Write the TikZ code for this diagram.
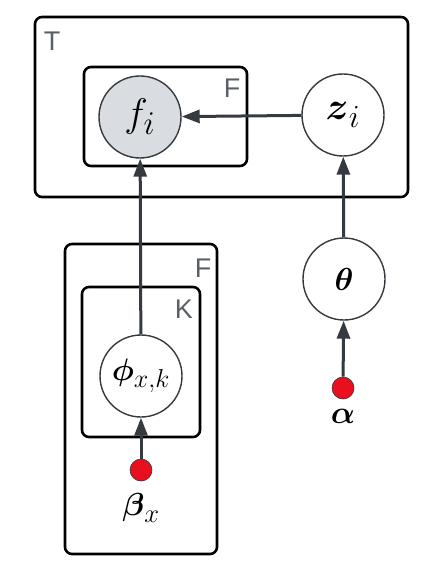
\documentclass[tikz,border=0pt]{standalone}
\usepackage{amsmath,amssymb,graphicx}
\usepackage{fontspec}
\newfontfamily\platefont{Liberation Sans}
\usetikzlibrary{arrows.meta}
\definecolor{edgec}{HTML}{343A40}
\definecolor{obsfill}{HTML}{D9DCE0}
\definecolor{dotred}{HTML}{E8101E}
\definecolor{platetxt}{HTML}{5A6067}
\newcommand{\bigmath}[2]{\scalebox{#1}{\Huge$#2$}}
\tikzset{
  plate/.style={draw=black, line width=2.6pt, rounded corners=7pt},
  platelabel/.style={text=platetxt, font=\platefont\fontsize{27}{27}\selectfont, inner sep=0pt},
  latent/.style={circle, draw=edgec, line width=1.4pt, minimum size=82pt, inner sep=0pt, fill=white},
  observed/.style={latent, fill=obsfill},
  hyper/.style={circle, fill=dotred, draw=edgec, line width=0.6pt, minimum size=22pt, inner sep=0pt},
  hyperlabel/.style={inner sep=0pt},
  edge/.style={draw=edgec, line width=3pt, -{Triangle[length=18pt,width=13pt]}},
}
\begin{document}
\begin{tikzpicture}[x=1pt,y=-1pt]
\useasboundingbox (0,0) rectangle (443,580);
% plates
\draw[plate] (35,17) rectangle (408,197);
\node[platelabel] (lT) at (52,41) {T};
\draw[plate] (84,67) rectangle (247,166);
\node[platelabel] (lF1) at (232,88) {F};
\draw[plate] (65,244) rectangle (217,554);
\node[platelabel] (lF2) at (203,268) {F};
\draw[plate] (82,287) rectangle (200,437);
\node[platelabel] (lK) at (184,309) {K};
% nodes
\node[observed] (f) at (140,117) {\bigmath{1.6}{f_i}};
\node[latent] (z) at (343,115) {\bigmath{1.55}{\boldsymbol{z}_i}};
\node[latent] (theta) at (344,279) {\bigmath{1.28}{\boldsymbol{\theta}}};
\node[latent] (phi) at (141,376) {\bigmath{1.25}{\boldsymbol{\phi}_{x,k}}};
\node[hyper] (alpha) at (343,388) {};
\node[hyperlabel] (alab) at (343,416) {\bigmath{1.28}{\boldsymbol{\alpha}}};
\node[hyper] (beta) at (141,470) {};
\node[hyperlabel] (blab) at (141,508) {\bigmath{1.28}{\boldsymbol{\beta}_{x}}};
% edges
\draw[edge] (z) -- (f);
\draw[edge] (phi) -- (f);
\draw[edge] (theta) -- (z);
\draw[edge] (alpha) -- (theta);
\draw[edge] (beta) -- (phi);
\end{tikzpicture}
\end{document}
